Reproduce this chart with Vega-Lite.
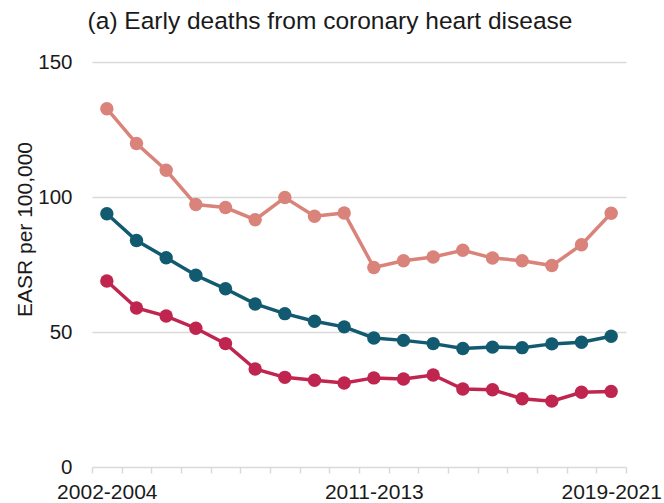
{
  "$schema": "https://vega.github.io/schema/vega-lite/v6.json",
  "width": 534,
  "height": 405,
  "autosize": {"type": "none"},
  "padding": {"left": 92, "top": 62, "right": 38, "bottom": 36},
  "background": "white",
  "view": {"stroke": null},
  "title": {
    "text": "(a) Early deaths from coronary heart disease",
    "font": "Liberation Sans",
    "fontSize": 24.5,
    "fontWeight": "normal",
    "color": "#1a1a1a",
    "anchor": "middle",
    "dx": -29,
    "offset": 18
  },
  "data": {
    "values": [
      {"period": "2002-2004", "group": "Most deprived", "value": 132.7},
      {"period": "2003-2005", "group": "Most deprived", "value": 119.8},
      {"period": "2004-2006", "group": "Most deprived", "value": 109.9},
      {"period": "2005-2007", "group": "Most deprived", "value": 97.2},
      {"period": "2006-2008", "group": "Most deprived", "value": 96.1},
      {"period": "2007-2009", "group": "Most deprived", "value": 91.6},
      {"period": "2008-2010", "group": "Most deprived", "value": 99.8},
      {"period": "2009-2011", "group": "Most deprived", "value": 92.9},
      {"period": "2010-2012", "group": "Most deprived", "value": 94.1},
      {"period": "2011-2013", "group": "Most deprived", "value": 73.9},
      {"period": "2012-2014", "group": "Most deprived", "value": 76.4},
      {"period": "2013-2015", "group": "Most deprived", "value": 77.8},
      {"period": "2014-2016", "group": "Most deprived", "value": 80.3},
      {"period": "2015-2017", "group": "Most deprived", "value": 77.4},
      {"period": "2016-2018", "group": "Most deprived", "value": 76.4},
      {"period": "2017-2019", "group": "Most deprived", "value": 74.6},
      {"period": "2018-2020", "group": "Most deprived", "value": 82.3},
      {"period": "2019-2021", "group": "Most deprived", "value": 94.0},
      {"period": "2002-2004", "group": "England", "value": 93.8},
      {"period": "2003-2005", "group": "England", "value": 83.9},
      {"period": "2004-2006", "group": "England", "value": 77.5},
      {"period": "2005-2007", "group": "England", "value": 71.0},
      {"period": "2006-2008", "group": "England", "value": 66.0},
      {"period": "2007-2009", "group": "England", "value": 60.4},
      {"period": "2008-2010", "group": "England", "value": 56.8},
      {"period": "2009-2011", "group": "England", "value": 54.0},
      {"period": "2010-2012", "group": "England", "value": 51.9},
      {"period": "2011-2013", "group": "England", "value": 47.8},
      {"period": "2012-2014", "group": "England", "value": 46.9},
      {"period": "2013-2015", "group": "England", "value": 45.7},
      {"period": "2014-2016", "group": "England", "value": 43.9},
      {"period": "2015-2017", "group": "England", "value": 44.4},
      {"period": "2016-2018", "group": "England", "value": 44.2},
      {"period": "2017-2019", "group": "England", "value": 45.6},
      {"period": "2018-2020", "group": "England", "value": 46.2},
      {"period": "2019-2021", "group": "England", "value": 48.4},
      {"period": "2002-2004", "group": "Least deprived", "value": 68.9},
      {"period": "2003-2005", "group": "Least deprived", "value": 58.9},
      {"period": "2004-2006", "group": "Least deprived", "value": 55.9},
      {"period": "2005-2007", "group": "Least deprived", "value": 51.4},
      {"period": "2006-2008", "group": "Least deprived", "value": 45.7},
      {"period": "2007-2009", "group": "Least deprived", "value": 36.3},
      {"period": "2008-2010", "group": "Least deprived", "value": 33.2},
      {"period": "2009-2011", "group": "Least deprived", "value": 32.1},
      {"period": "2010-2012", "group": "Least deprived", "value": 31.1},
      {"period": "2011-2013", "group": "Least deprived", "value": 33.0},
      {"period": "2012-2014", "group": "Least deprived", "value": 32.6},
      {"period": "2013-2015", "group": "Least deprived", "value": 34.1},
      {"period": "2014-2016", "group": "Least deprived", "value": 28.9},
      {"period": "2015-2017", "group": "Least deprived", "value": 28.6},
      {"period": "2016-2018", "group": "Least deprived", "value": 25.3},
      {"period": "2017-2019", "group": "Least deprived", "value": 24.4},
      {"period": "2018-2020", "group": "Least deprived", "value": 27.7},
      {"period": "2019-2021", "group": "Least deprived", "value": 28.0}
    ]
  },
  "encoding": {
    "x": {
      "field": "period",
      "type": "ordinal",
      "sort": null,
      "scale": {"paddingInner": 0, "paddingOuter": 0},
      "axis": {
        "title": null,
        "labelAngle": 0,
        "labelExpr": "indexof(['2002-2004','2011-2013','2019-2021'], datum.value) >= 0 ? datum.value : ''",
        "labelOverlap": false,
        "labelBound": false,
        "labelFont": "Liberation Sans",
        "labelFontSize": 21,
        "labelColor": "#1a1a1a",
        "labelPadding": 8,
        "tickBand": "extent",
        "tickColor": "#d9d9d9",
        "tickSize": 6,
        "tickWidth": 1.5,
        "domainColor": "#d9d9d9",
        "domainWidth": 1.5,
        "grid": false
      }
    },
    "y": {
      "field": "value",
      "type": "quantitative",
      "scale": {"domain": [0, 150], "nice": false},
      "axis": {
        "title": "EASR per 100,000",
        "titleFont": "Liberation Sans",
        "titleFontSize": 21,
        "titleFontWeight": "normal",
        "titleColor": "#1a1a1a",
        "titleAngle": -90,
        "titleAlign": "center",
        "titleBaseline": "middle",
        "titleX": -67,
        "titleY": 167,
        "values": [0, 50, 100, 150],
        "labelFont": "Liberation Sans",
        "labelFontSize": 20.5,
        "labelColor": "#1a1a1a",
        "labelPadding": 20,
        "ticks": false,
        "domain": false,
        "grid": true,
        "gridColor": "#d9d9d9",
        "gridWidth": 1.5,
        "gridOpacity": {"condition": {"test": "datum.value === 0", "value": 0}, "value": 1}
      }
    },
    "color": {
      "field": "group",
      "type": "nominal",
      "scale": {
        "domain": ["Most deprived", "England", "Least deprived"],
        "range": ["#d9837a", "#115a70", "#c0254f"]
      },
      "legend": null
    }
  },
  "layer": [
    {"mark": {"type": "line", "strokeWidth": 3.5}},
    {"mark": {"type": "point", "filled": true, "opacity": 1, "size": 180}}
  ]
}
